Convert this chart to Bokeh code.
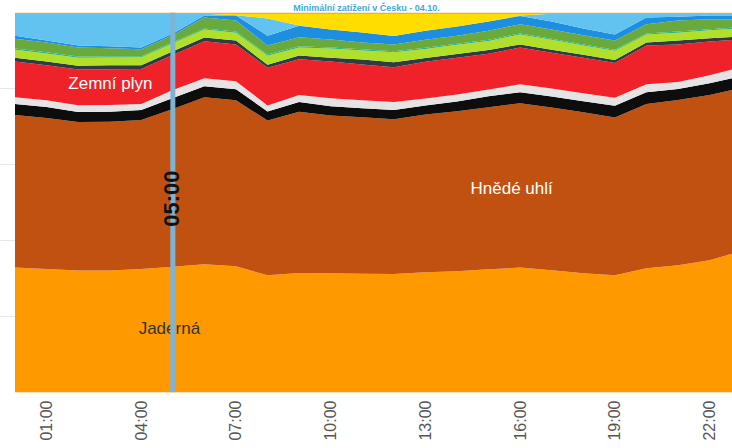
import math
from bokeh.plotting import figure
from bokeh.models import Range1d, FixedTicker, Label, Span, Grid, ColumnDataSource, Title
from bokeh.embed import file_html
from bokeh.resources import INLINE

# ---- data (share of production, % of total) ----
hours = list(range(24))
tick_hours = [1, 4, 7, 10, 13, 16, 19, 22]
tick_labels = ["01:00", "04:00", "07:00", "10:00", "13:00", "16:00", "19:00", "22:00"]
marker_hour = 5
marker_label = "05:00"
title_text = "Minimální zatížení v Česku - 04.10."

jaderna = [32.9, 32.5, 32.1, 32.1, 32.5, 33.1, 33.8, 33.2, 30.9, 31.4, 31.4, 31.3,
           31.2, 31.7, 31.9, 32.5, 32.9, 32.2, 31.4, 30.9, 32.7, 33.5, 34.8, 37.2]
hnede_uhli = [40.2, 39.8, 39.1, 39.1, 39.3, 41.5, 44.0, 43.7, 40.8, 42.4, 41.6, 41.2,
              40.8, 41.6, 42.1, 42.7, 43.3, 42.9, 42.4, 41.6, 43.2, 43.5, 43.5, 42.9]
cerne_uhli = [2.9, 2.9, 2.6, 2.6, 2.6, 2.9, 2.9, 2.9, 2.4, 2.6, 2.4, 2.4,
              2.4, 2.4, 2.6, 2.9, 2.9, 2.9, 2.9, 3.1, 3.1, 2.9, 3.1, 3.1]
ostatni = [1.8, 1.8, 1.8, 1.8, 1.6, 2.1, 2.1, 2.1, 1.6, 1.8, 2.1, 2.1,
           2.1, 1.8, 1.8, 1.8, 2.1, 2.1, 2.1, 2.1, 2.1, 1.8, 2.1, 2.4]
zemni_plyn = [9.4, 9.2, 9.4, 9.4, 9.2, 9.2, 9.7, 9.7, 9.9, 9.4, 9.7, 9.4,
              9.2, 9.7, 9.7, 9.4, 9.7, 9.4, 9.4, 9.2, 10.2, 9.9, 8.9, 7.3]
ropa = [1.0, 1.0, 1.0, 1.0, 1.0, 1.0, 1.0, 1.0, 0.8, 1.0, 1.0, 1.3,
        1.3, 1.0, 1.0, 1.0, 0.8, 0.8, 0.8, 0.8, 0.8, 1.0, 0.8, 0.8]
bioplyn = [2.1, 2.1, 2.1, 2.1, 2.1, 2.1, 2.1, 2.1, 2.4, 2.1, 2.4, 2.4,
           2.6, 2.4, 2.4, 2.4, 2.6, 2.6, 2.4, 2.4, 2.1, 2.1, 2.1, 2.1]
vetrna = [0.3] * 24
biomasa = [2.6, 2.6, 2.4, 2.1, 1.8, 1.8, 2.9, 2.9, 2.4, 2.4, 2.1, 1.8,
           1.8, 2.1, 2.1, 2.4, 2.4, 2.4, 2.4, 2.4, 2.4, 2.9, 2.6, 2.1]
vodni = [0.8, 0.5, 0.5, 0.5, 0.5, 0.5, 0.5, 1.3, 2.6, 3.0, 2.6, 2.6,
         2.2, 2.4, 2.4, 2.4, 2.2, 2.1, 1.8, 1.6, 1.8, 1.0, 1.0, 1.0]
precerpavaci = [5.8, 7.1, 8.4, 8.6, 8.9, 5.2, 0.5, 0.1, 4.5, 0.1, 0.0, 0.0,
                0.0, 0.0, 0.0, 0.0, 0.1, 2.1, 3.9, 5.5, 1.0, 0.8, 0.5, 0.5]
solarni = [0.0, 0.0, 0.0, 0.0, 0.0, 0.0, 0.0, 0.4, 1.3, 3.1, 4.2, 5.0,
           5.9, 4.5, 3.4, 2.1, 0.5, 0.0, 0.0, 0.0, 0.0, 0.0, 0.0, 0.0]
geotermalni = [0.1] * 24
jine = [0.2] * 24

names = ["Jaderná", "Hnědé uhlí", "Černé uhlí", "Ostatní", "Zemní plyn", "Ropa",
         "Bioplyn", "Větrná", "Biomasa", "Vodní", "Přečerpávací", "Solární",
         "Geotermální", "Jiné"]
series = [jaderna, hnede_uhli, cerne_uhli, ostatni, zemni_plyn, ropa, bioplyn,
          vetrna, biomasa, vodni, precerpavaci, solarni, geotermalni, jine]
colors = ["#FF9900", "#C15111", "#0d0d0d", "#E4E4E4", "#EE2228", "#323a44",
          "#B0E02A", "#2BB58A", "#6AAA3C", "#1E8FE0", "#62C2F0", "#FFDD00",
          "#E83E6C", "#F5A623"]

# percent stacking (like stacking: 'percent')
totals = [sum(s[i] for s in series) for i in range(len(hours))]
data = {"hour": hours}
keys = []
for k, s in enumerate(series):
    key = "s%d" % k
    keys.append(key)
    data[key] = [v / t * 100.0 for v, t in zip(s, totals)]
src = ColumnDataSource(data)

title = Title(text=title_text, align="center", text_font="Liberation Sans",
              text_font_size="9px", text_font_style="bold", text_color="#3FA9E0",
              text_line_height=0.75, standoff=0, offset=0)

p = figure(width=732, height=448, output_backend="svg", toolbar_location=None,
           x_range=Range1d(-0.459, 22.727), y_range=Range1d(0, 100),
           y_axis_location=None, title=title,
           min_border_left=0, min_border_right=0, min_border_top=0, min_border_bottom=56)
p.outline_line_color = None
p.background_fill_color = "white"
p.border_fill_color = "white"
p.xgrid.visible = False

g = Grid(dimension=1, ticker=FixedTicker(ticks=[0, 20, 40, 60, 80, 100]),
         grid_line_color="#e6e6e6", grid_line_width=1)
p.add_layout(g)

p.varea_stack(stackers=keys, x="hour", color=colors, source=src)

ax = p.xaxis[0]
ax.ticker = FixedTicker(ticks=tick_hours)
ax.major_label_overrides = {h: l for h, l in zip(tick_hours, tick_labels)}
ax.major_label_orientation = math.pi / 2
ax.axis_line_color = None
ax.major_tick_line_color = None
ax.minor_tick_line_color = None
ax.major_tick_out = 0
ax.major_label_standoff = 8
ax.major_label_text_font = "Liberation Sans"
ax.major_label_text_font_size = "16px"
ax.major_label_text_color = "#555555"

font = "Liberation Sans"
p.add_layout(Label(x=3.02, y=81.2, text="Zemní plyn", text_align="center",
                   text_baseline="middle", text_color="white",
                   text_font=font, text_font_size="17px"))
p.add_layout(Label(x=15.73, y=53.7, text="Hnědé uhlí", text_align="center",
                   text_baseline="middle", text_color="white",
                   text_font=font, text_font_size="17px"))
p.add_layout(Label(x=4.89, y=16.8, text="Jaderná", text_align="center",
                   text_baseline="middle", text_color="#333333",
                   text_font=font, text_font_size="17px"))
p.add_layout(Span(location=marker_hour, dimension="height",
                  line_color="#7DB4D4", line_width=5))
p.add_layout(Label(x=marker_hour, y=51.0, x_offset=-1.5, text=marker_label,
                   angle=math.pi / 2, text_align="center", text_baseline="middle",
                   text_color="#111111", text_font=font, text_font_size="22px",
                   text_font_style="bold"))

open("out.html", "w").write(file_html(p, INLINE))
